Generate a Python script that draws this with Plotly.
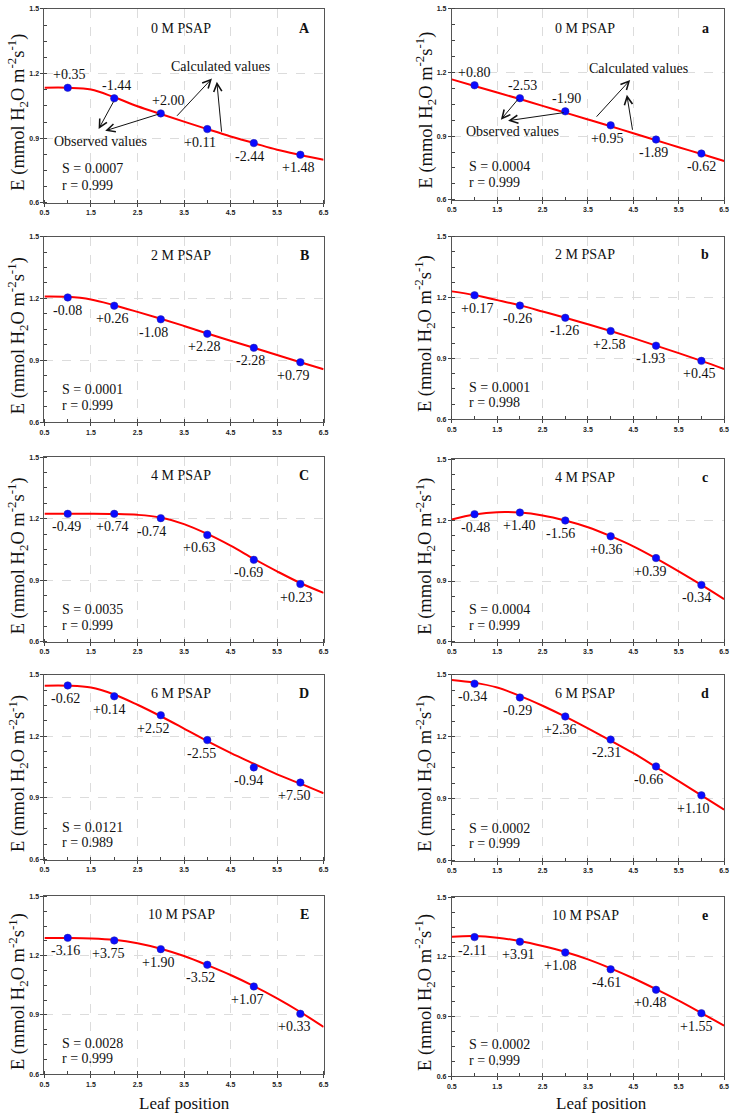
import plotly.graph_objects as go

# ---------------- data ----------------
LEAF = [1, 2, 3, 4, 5, 6]
CURVE_X = [0.5, 1.0, 1.5, 2.0, 2.5, 3.0, 3.5, 4.0, 4.5, 5.0, 5.5, 6.0, 6.5]
X_TICKS = [0.5, 1.5, 2.5, 3.5, 4.5, 5.5, 6.5]
X_TICK_TEXT = ["0.5", "1.5", "2.5", "3.5", "4.5", "5.5", "6.5"]
Y_TICKS = [0.6, 0.9, 1.2, 1.5]
Y_TICK_TEXT = ["0.6", "0.9", "1.2", "1.5"]

obs_A = [1.134, 1.085, 1.015, 0.942, 0.877, 0.823]
calc_A = [1.134, 1.134, 1.126, 1.090, 1.048, 1.012, 0.977, 0.942, 0.908, 0.877, 0.846, 0.822, 0.800]
dev_A = ["+0.35", "-1.44", "+2.00", "+0.11", "-2.44", "+1.48"]

obs_a = [1.140, 1.079, 1.017, 0.951, 0.884, 0.818]
calc_a = [1.168, 1.137, 1.106, 1.075, 1.043, 1.011, 0.979, 0.947, 0.914, 0.881, 0.848, 0.816, 0.783]
dev_a = ["+0.80", "-2.53", "-1.90", "+0.95", "-1.89", "-0.62"]

obs_B = [1.205, 1.165, 1.099, 1.029, 0.961, 0.891]
calc_B = [1.210, 1.208, 1.195, 1.167, 1.135, 1.102, 1.067, 1.030, 0.995, 0.961, 0.926, 0.891, 0.857]
dev_B = ["-0.08", "+0.26", "-1.08", "+2.28", "-2.28", "+0.79"]

obs_b = [1.211, 1.160, 1.100, 1.035, 0.963, 0.888]
calc_b = [1.230, 1.212, 1.187, 1.161, 1.131, 1.100, 1.068, 1.035, 1.000, 0.963, 0.926, 0.888, 0.848]
dev_b = ["+0.17", "-0.26", "-1.26", "+2.58", "-1.93", "+0.45"]

obs_C = [1.224, 1.224, 1.203, 1.121, 1.000, 0.882]
calc_C = [1.224, 1.224, 1.224, 1.223, 1.219, 1.206, 1.174, 1.126, 1.069, 1.005, 0.944, 0.887, 0.839]
dev_C = ["-0.49", "+0.74", "-0.74", "+0.63", "-0.69", "+0.23"]

obs_c = [1.229, 1.237, 1.198, 1.120, 1.013, 0.881]
calc_c = [1.203, 1.227, 1.239, 1.237, 1.223, 1.198, 1.165, 1.121, 1.071, 1.012, 0.948, 0.881, 0.811]
dev_c = ["-0.48", "+1.40", "-1.56", "+0.36", "+0.39", "-0.34"]

obs_D = [1.448, 1.395, 1.303, 1.182, 1.049, 0.975]
calc_D = [1.447, 1.447, 1.438, 1.404, 1.354, 1.298, 1.238, 1.177, 1.120, 1.067, 1.015, 0.970, 0.923]
dev_D = ["-0.62", "+0.14", "+2.52", "-2.55", "-0.94", "+7.50"]

obs_d = [1.457, 1.390, 1.298, 1.186, 1.056, 0.916]
calc_d = [1.475, 1.462, 1.438, 1.398, 1.350, 1.297, 1.240, 1.181, 1.120, 1.053, 0.985, 0.916, 0.847]
dev_d = ["-0.34", "-0.29", "+2.36", "-2.31", "-0.66", "+1.10"]

obs_E = [1.290, 1.277, 1.233, 1.154, 1.044, 0.906]
calc_E = [1.289, 1.289, 1.287, 1.280, 1.263, 1.235, 1.198, 1.152, 1.102, 1.046, 0.984, 0.915, 0.839]
dev_E = ["-3.16", "+3.75", "+1.90", "-3.52", "+1.07", "+0.33"]

obs_e = [1.300, 1.277, 1.223, 1.138, 1.035, 0.917]
calc_e = [1.302, 1.305, 1.297, 1.280, 1.255, 1.225, 1.188, 1.143, 1.093, 1.038, 0.980, 0.918, 0.855]
dev_e = ["-2.11", "+3.91", "+1.08", "-4.61", "+0.48", "+1.55"]

TREATMENTS = ["0 M PSAP", "2 M PSAP", "4 M PSAP", "6 M PSAP", "10 M PSAP"]
LETTERS_L = ["A", "B", "C", "D", "E"]
LETTERS_R = ["a", "b", "c", "d", "e"]
S_L = ["0.0007", "0.0001", "0.0035", "0.0121", "0.0028"]
R_L = ["0.999", "0.999", "0.999", "0.989", "0.999"]
S_R = ["0.0004", "0.0001", "0.0004", "0.0002", "0.0002"]
R_R = ["0.999", "0.998", "0.999", "0.999", "0.999"]

# ---------------- layout / style config ----------------
W, H = 735, 1116
SERIF = "Liberation Serif"
X_DOM = [(40, 323), (453, 729)]
Y_PIX = [[(5, 200), (5, 197)], [(234, 421), (234, 418)], [(456, 642), (458, 642)],
         [(675, 861), (675, 862)], [(898, 1077), (899, 1079)]]
ABOVE3 = ["up", "up", "up", "down", "down", "down"]
DOWN6 = ["down"] * 6
label_pos = {"A": ABOVE3, "a": ABOVE3}
label_dx = {
    "A": [1, 2, 7, -7, -4, -2], "a": [-1, 3, 1, -4, -3, 0],
    "B": [0, -2, -7, -3, -3, -7], "b": [2, -2, -1, -2, -6, -2],
    "C": [-1, -2, -9, -8, -5, -4], "c": [1, -1, -5, -5, -6, -5],
    "D": [-2, -5, -8, -6, -5, -6], "d": [-2, -2, -5, -4, -8, -8],
    "E": [-2, -6, -3, -7, -7, -6], "e": [-2, -2, -5, -4, -6, -5],
}

series = {
    "A": (obs_A, calc_A, dev_A), "a": (obs_a, calc_a, dev_a),
    "B": (obs_B, calc_B, dev_B), "b": (obs_b, calc_b, dev_b),
    "C": (obs_C, calc_C, dev_C), "c": (obs_c, calc_c, dev_c),
    "D": (obs_D, calc_D, dev_D), "d": (obs_d, calc_d, dev_d),
    "E": (obs_E, calc_E, dev_E), "e": (obs_e, calc_e, dev_e),
}

fig = go.Figure()
layout = {}
annotations = []

YTITLE = "E (mmol H<sub>2</sub>O m<sup>-2</sup>s<sup>-1</sup>)"
TXT = dict(family=SERIF, size=14, color="#111")

idx = 0
for r in range(5):
    for c in range(2):
        idx += 1
        letter = LETTERS_L[r] if c == 0 else LETTERS_R[r]
        s_val = S_L[r] if c == 0 else S_R[r]
        r_val = R_L[r] if c == 0 else R_R[r]
        obs, calc, dev = series[letter]
        xa = "x" if idx == 1 else f"x{idx}"
        ya = "y" if idx == 1 else f"y{idx}"
        xkey = "xaxis" if idx == 1 else f"xaxis{idx}"
        ykey = "yaxis" if idx == 1 else f"yaxis{idx}"
        top, bot = Y_PIX[r][c]
        x0, x1 = X_DOM[c]
        common = dict(
            tickmode="array",
            tickfont=dict(family="Arial", size=7, color="#222", weight="bold"),
            ticks="outside", ticklen=3, tickcolor="#444",
            ticklabeloverflow="allow",
            showline=True, linecolor="#555", linewidth=1, mirror=True,
            showgrid=True, gridcolor="#dcdcdc", griddash="dash", gridwidth=1,
            zeroline=False, fixedrange=True,
        )
        layout[xkey] = dict(
            domain=[x0 / W, x1 / W], anchor=ya, range=[0.5, 6.5],
            tickvals=X_TICKS, ticktext=X_TICK_TEXT,
            minor=dict(dtick=0.5, tick0=0.5, ticks="inside", ticklen=3, tickcolor="#444", showgrid=False),
            **common,
        )
        layout[ykey] = dict(
            domain=[1 - bot / H, 1 - top / H], anchor=xa, range=[0.6, 1.5],
            tickvals=Y_TICKS, ticktext=Y_TICK_TEXT,
            minor=dict(dtick=0.075, tick0=0.6, ticks="inside", ticklen=3, tickcolor="#444", showgrid=False),
            **common,
        )
        fig.add_trace(go.Scatter(
            x=CURVE_X, y=calc, mode="lines", xaxis=xa, yaxis=ya,
            line=dict(color="#ff0000", width=2, shape="spline", smoothing=1.0),
            showlegend=False, hoverinfo="skip",
        ))
        fig.add_trace(go.Scatter(
            x=LEAF, y=obs, mode="markers", xaxis=xa, yaxis=ya,
            marker=dict(color="#0a0aff", size=7.5, line=dict(color="#2a2aa0", width=0.5)),
            showlegend=False,
        ))
        # deviation labels
        pos = label_pos.get(letter, DOWN6)
        dxs = label_dx[letter]
        for i in range(6):
            annotations.append(dict(
                x=LEAF[i], y=obs[i], xref=xa, yref=ya, text=dev[i], showarrow=False,
                xshift=dxs[i], yshift=13 if pos[i] == "up" else -13,
                xanchor="center", yanchor="middle", font=TXT,
            ))
        xd = f"{xa} domain"
        yd = f"{ya} domain"
        annotations.append(dict(x=0.49, y=0.9, xref=xd, yref=yd, text=TREATMENTS[r],
                                xanchor="center", yanchor="middle", showarrow=False, font=TXT))
        annotations.append(dict(x=0.93, y=0.9, xref=xd, yref=yd, text=f"<b>{letter}</b>",
                                xanchor="center", yanchor="middle", showarrow=False, font=TXT))
        annotations.append(dict(x=0.055, y=0.175, xref=xd, yref=yd, text=f"S = {s_val}",
                                xanchor="left", yanchor="middle", showarrow=False, font=TXT))
        annotations.append(dict(x=0.055, y=0.09, xref=xd, yref=yd, text=f"r = {r_val}",
                                xanchor="left", yanchor="middle", showarrow=False, font=TXT))
        # y-axis title
        annotations.append(dict(
            x=(x0 - 27) / W, y=1 - ((top + bot) / 2 + 6) / H, xref="paper", yref="paper",
            text=YTITLE, textangle=-90, showarrow=False,
            xanchor="center", yanchor="middle",
            font=dict(family=SERIF, size=18.5, color="#111"),
        ))
        if r == 4:
            annotations.append(dict(
                x=(182 if c == 0 else 605) / W, y=1 - 1106 / H, xref="paper", yref="paper",
                text="Leaf position", showarrow=False, xanchor="center", yanchor="middle",
                font=dict(family=SERIF, size=17, color="#111"),
            ))

# Observed / calculated pointer annotations (panels A and a)
pointer_sets = [
    ("x", "y", (1.70, 0.885), (4.275, 1.231),
     [((1.664, 0.942), (2.003, 1.077)), ((1.806, 0.934), (3.005, 1.015))],
     [((4.10, 1.177), (3.32, 0.997)), ((4.205, 1.162), (4.31, 0.923))]),
    ("x2", "y2", (1.834, 0.923), (4.61, 1.219),
     [((1.581, 0.978), (1.99, 1.082)), ((1.74, 0.973), (3.0, 1.012))],
     [((4.43, 1.165), (3.66, 0.985)), ((4.357, 1.095), (4.487, 0.923))]),
]
for xa, ya, obs_txt, calc_txt, obs_arrows, calc_arrows in pointer_sets:
    annotations.append(dict(x=obs_txt[0], y=obs_txt[1], xref=xa, yref=ya, text="Observed values",
                            xanchor="center", yanchor="middle", showarrow=False, font=TXT))
    annotations.append(dict(x=calc_txt[0], y=calc_txt[1], xref=xa, yref=ya, text="Calculated values",
                            xanchor="center", yanchor="middle", showarrow=False, font=TXT))
    for head, tail in obs_arrows + calc_arrows:
        annotations.append(dict(
            x=head[0], y=head[1], ax=tail[0], ay=tail[1], xref=xa, yref=ya, axref=xa, ayref=ya,
            text="", showarrow=True, arrowhead=5, arrowsize=1.6, arrowwidth=1, arrowcolor="#111",
            standoff=0, startstandoff=0,
        ))

fig.update_layout(
    width=W, height=H, autosize=False,
    margin=dict(l=0, r=0, t=0, b=0),
    paper_bgcolor="white", plot_bgcolor="white",
    showlegend=False, annotations=annotations, **layout,
)

fig.write_html(
    "out.html",
    config={"displayModeBar": False, "staticPlot": True},
    post_script="document.body.style.margin='0px';document.body.style.overflow='hidden';",
)
